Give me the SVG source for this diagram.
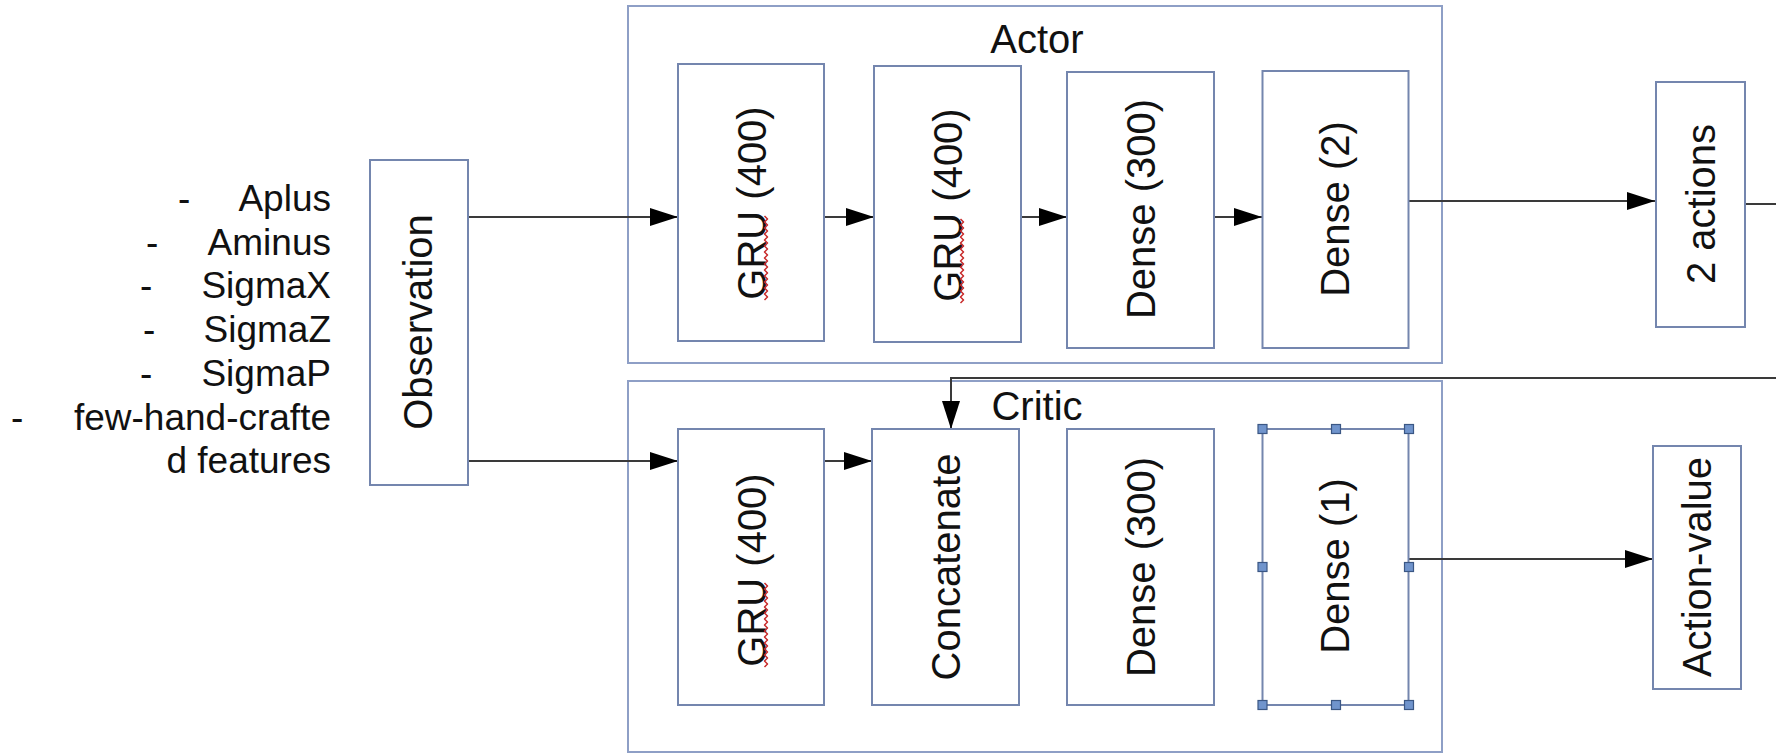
<svg xmlns="http://www.w3.org/2000/svg" width="1776" height="753" viewBox="0 0 1776 753">
  <style>
    .frame { fill: none; stroke: #8e9fc6; stroke-width: 2; }
    .box { fill: #ffffff; stroke: #7486ae; stroke-width: 2; }
    .lbl { font-family: "Liberation Sans", Arial, sans-serif; font-size: 40px; fill: #111111; text-anchor: middle; }
    .title { font-family: "Liberation Sans", Arial, sans-serif; font-size: 40px; fill: #111111; text-anchor: middle; }
    .item { font-family: "Liberation Sans", Arial, sans-serif; font-size: 37px; fill: #111111; }
    .wire { fill: none; stroke: #3a3a3a; stroke-width: 2; }
    .handle { fill: #7094cc; stroke: #3b5784; stroke-width: 1.2; }
    .squiggle { fill: none; stroke: #c82a2a; stroke-width: 1.5; stroke-linejoin: round; }
  </style>
  <defs>
    <marker id="arrow" markerUnits="userSpaceOnUse" markerWidth="30" markerHeight="20" refX="28" refY="9" orient="auto">
      <path d="M0,0 L28,9 L0,18 Z" fill="#000000"/>
    </marker>
    <!-- spell-check underline, drawn upward along rotated words -->
    <path id="wave" d="M0,0 l3,-3 -3,-3 3,-3 -3,-3 3,-3 -3,-3 3,-3 -3,-3 3,-3 -3,-3 3,-3 -3,-3 3,-3 -3,-3 3,-3 -3,-3 3,-3 -3,-3 3,-3 -3,-3 3,-3 -3,-3 3,-3 -3,-3 3,-3 -3,-3 3,-3 -3,-3"/>
  </defs>

  <rect width="1776" height="753" fill="#ffffff"/>

  <!-- input feature list -->
  <g id="feature-list" class="item">
    <text x="178" y="211">-</text>
    <text x="331" y="211" text-anchor="end">Aplus</text>
    <text x="146" y="255">-</text>
    <text x="331" y="255" text-anchor="end">Aminus</text>
    <text x="140" y="298">-</text>
    <text x="331" y="298" text-anchor="end">SigmaX</text>
    <text x="143" y="342">-</text>
    <text x="331" y="342" text-anchor="end">SigmaZ</text>
    <text x="140" y="386">-</text>
    <text x="331" y="386" text-anchor="end">SigmaP</text>
    <text x="11" y="430">-</text>
    <text x="331" y="430" text-anchor="end">few-hand-crafte</text>
    <text x="331" y="473" text-anchor="end">d features</text>
  </g>

  <!-- network frames -->
  <g id="actor">
    <rect class="frame" x="628" y="6" width="814" height="357"/>
    <text class="title" x="1037" y="53">Actor</text>
  </g>
  <g id="critic">
    <rect class="frame" x="628" y="381" width="814" height="371"/>
    <text class="title" x="1037" y="420">Critic</text>
  </g>

  <!-- connectors -->
  <g id="connectors">
    <path class="wire" d="M468,217 H678" marker-end="url(#arrow)"/>
    <path class="wire" d="M824,217 H874" marker-end="url(#arrow)"/>
    <path class="wire" d="M1021,217 H1067" marker-end="url(#arrow)"/>
    <path class="wire" d="M1214,217 H1262" marker-end="url(#arrow)"/>
    <path class="wire" d="M1409,201 H1655" marker-end="url(#arrow)"/>
    <path class="wire" d="M1745,204 H1776"/>
    <path class="wire" d="M1776,378 H951 V429" marker-end="url(#arrow)"/>
    <path class="wire" d="M468,461 H678" marker-end="url(#arrow)"/>
    <path class="wire" d="M824,461 H872" marker-end="url(#arrow)"/>
    <path class="wire" d="M1409,559 H1653" marker-end="url(#arrow)"/>
  </g>

  <!-- nodes -->
  <g id="observation">
    <rect class="box" x="370" y="160" width="98" height="325"/>
    <text class="lbl" transform="translate(432,322) rotate(-90)">Observation</text>
  </g>

  <g id="actor-gru-1">
    <rect class="box" x="678" y="64" width="146" height="277"/>
    <text class="lbl" transform="translate(766,203) rotate(-90)">GRU (400)</text>
    <use href="#wave" class="squiggle" transform="translate(764.5,300)"/>
  </g>
  <g id="actor-gru-2">
    <rect class="box" x="874" y="66" width="147" height="276"/>
    <text class="lbl" transform="translate(962,205) rotate(-90)">GRU (400)</text>
    <use href="#wave" class="squiggle" transform="translate(960.5,303)"/>
  </g>
  <g id="actor-dense-300">
    <rect class="box" x="1067" y="72" width="147" height="276"/>
    <text class="lbl" transform="translate(1155,209) rotate(-90)">Dense (300)</text>
  </g>
  <g id="actor-dense-2">
    <rect class="box" x="1262.5" y="71" width="146" height="277"/>
    <text class="lbl" transform="translate(1349,209) rotate(-90)">Dense (2)</text>
  </g>
  <g id="actions-out">
    <rect class="box" x="1656" y="82" width="89" height="245"/>
    <text class="lbl" transform="translate(1715,204) rotate(-90)">2 actions</text>
  </g>

  <g id="critic-gru">
    <rect class="box" x="678" y="429" width="146" height="276"/>
    <text class="lbl" transform="translate(766,570) rotate(-90)">GRU (400)</text>
    <use href="#wave" class="squiggle" transform="translate(764.5,667)"/>
  </g>
  <g id="critic-concatenate">
    <rect class="box" x="872" y="429" width="147" height="276"/>
    <text class="lbl" transform="translate(960,567) rotate(-90)">Concatenate</text>
  </g>
  <g id="critic-dense-300">
    <rect class="box" x="1067" y="429" width="147" height="276"/>
    <text class="lbl" transform="translate(1155,567) rotate(-90)">Dense (300)</text>
  </g>
  <g id="critic-dense-1">
    <rect class="box" x="1262.5" y="429" width="146" height="276"/>
    <text class="lbl" transform="translate(1349,566) rotate(-90)">Dense (1)</text>
    <rect class="handle" x="1258" y="424.5" width="9" height="9"/>
    <rect class="handle" x="1331.5" y="424.5" width="9" height="9"/>
    <rect class="handle" x="1404.5" y="424.5" width="9" height="9"/>
    <rect class="handle" x="1258" y="562.5" width="9" height="9"/>
    <rect class="handle" x="1404.5" y="562.5" width="9" height="9"/>
    <rect class="handle" x="1258" y="700.5" width="9" height="9"/>
    <rect class="handle" x="1331.5" y="700.5" width="9" height="9"/>
    <rect class="handle" x="1404.5" y="700.5" width="9" height="9"/>
  </g>
  <g id="action-value">
    <rect class="box" x="1653" y="446" width="88" height="243"/>
    <text class="lbl" transform="translate(1711,567) rotate(-90)">Action-value</text>
  </g>
</svg>
